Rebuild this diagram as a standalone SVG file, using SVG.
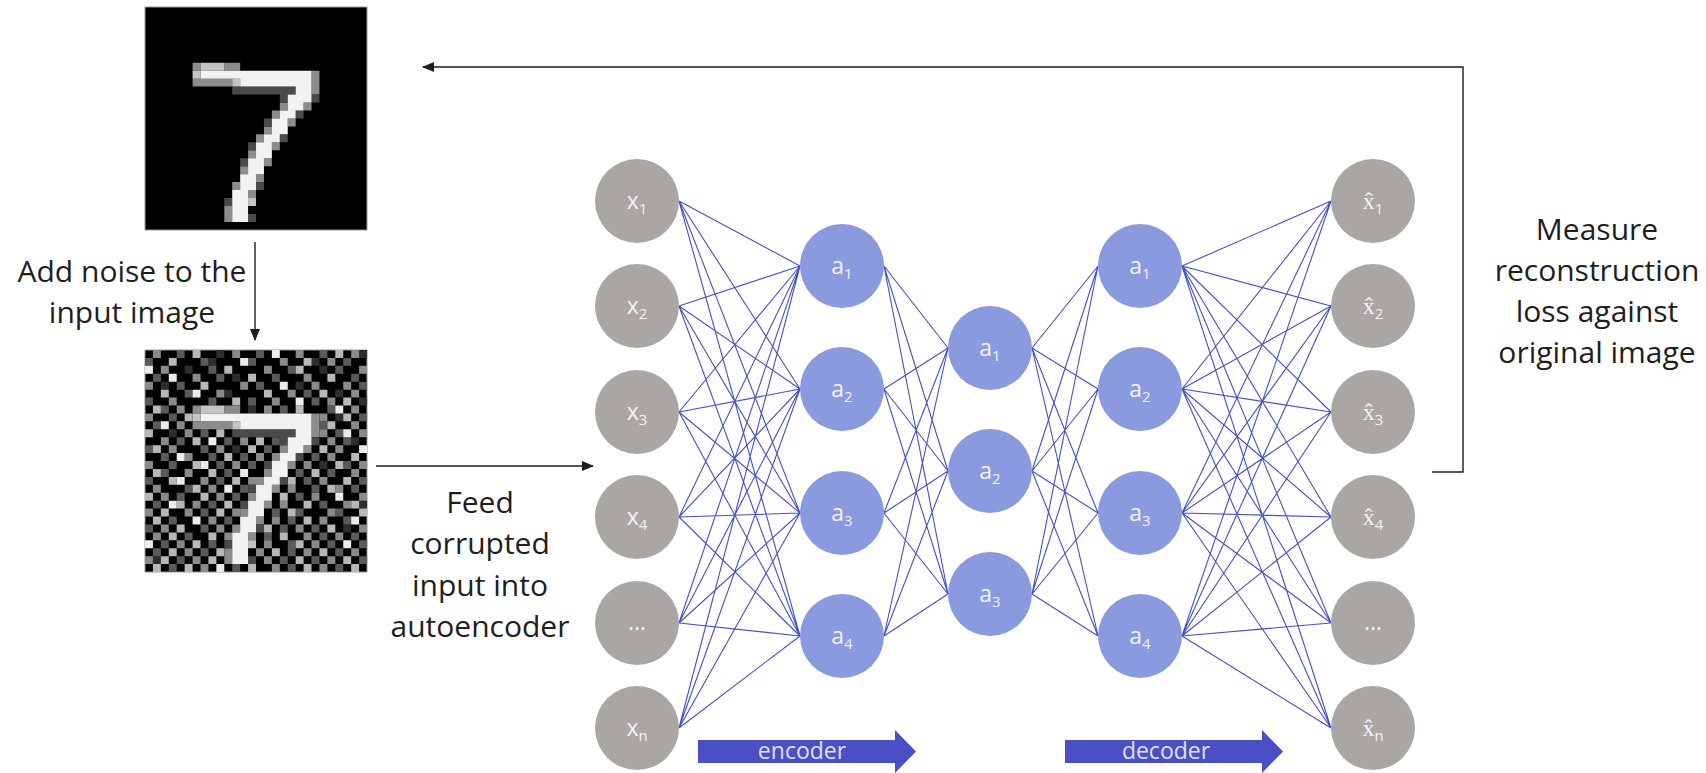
<svg xmlns="http://www.w3.org/2000/svg" xmlns:xlink="http://www.w3.org/1999/xlink" width="1706" height="773" viewBox="0 0 1706 773">
<style>
.txt{font-family:"Open Sans","Noto Sans",sans-serif;font-size:30px;fill:#1e1e1e;text-anchor:middle}
.gn{fill:#aaa6a4}
.bn{fill:#8a9ade}
.lbl{font-family:"Open Sans","Noto Sans",sans-serif;font-size:23px;fill:#f2f2f4;text-anchor:middle}
.hat{font-family:"Liberation Serif","DejaVu Serif",serif;font-size:24px}
.sub{font-size:15px}
.edge{fill:none;stroke:#4450c4;stroke-width:1.1}
.arr{fill:none;stroke:#1e1e1e;stroke-width:1.4}
.band{fill:#4a4fc6}
.bandtxt{font-family:"Open Sans","Noto Sans",sans-serif;font-size:23px;fill:#dfe2f6;text-anchor:middle}
.px{fill:none;stroke-width:1}
</style>
<defs>
<marker id="ah" markerUnits="userSpaceOnUse" markerWidth="12" markerHeight="10" refX="11" refY="5" orient="auto">
<path d="M0 0L12 5L0 10z" fill="#1e1e1e"/>
</marker>
<g id="digit7">
<path fill="#8c8c8c" d="M6 7h1v1h-1zM10 7h2v1h-2zM21 8h1v1h-1zM6 9h5v1h-5zM21 9h1v1h-1zM21 10h1v1h-1zM17 12h1v1h-1zM20 12h1v1h-1zM16 13h1v1h-1zM18 14h1v1h-1zM15 15h1v1h-1zM14 16h1v1h-1zM16 17h1v1h-1zM13 18h1v1h-1zM15 19h1v1h-1zM12 20h1v1h-1zM14 21h1v1h-1zM11 22h1v1h-1zM13 23h1v1h-1zM10 25h1v1h-1zM10 26h1v1h-1z"/>
<path fill="#4a4a4a" d="M11 10h8v1h-8zM17 11h1v1h-1zM21 11h1v1h-1zM19 13h1v1h-1zM15 14h1v1h-1zM17 16h1v1h-1zM13 17h1v1h-1zM12 19h1v1h-1zM14 22h1v1h-1zM10 24h1v1h-1zM13 26h1v1h-1z"/>
<path fill="#c4c4c4" d="M7 7h3v1h-3zM6 8h1v1h-1zM11 9h1v1h-1zM13 24h1v1h-1z"/>
<path fill="#f2f2f2" d="M7 8h14v1h-14zM12 9h9v1h-9zM19 10h2v1h-2zM18 11h3v1h-3zM18 12h2v1h-2zM17 13h2v1h-2zM16 14h2v1h-2zM16 15h2v1h-2zM15 16h2v1h-2zM14 17h2v1h-2zM14 18h2v1h-2zM13 19h2v1h-2zM13 20h2v1h-2zM12 21h2v1h-2zM12 22h2v1h-2zM11 23h2v1h-2zM11 24h2v1h-2zM11 25h2v1h-2zM11 26h2v1h-2z"/>
</g>
</defs>
<rect width="1706" height="773" fill="#ffffff"/>

<g id="input-image">
<rect x="145" y="7" width="222" height="223" fill="#000000" stroke="#9a9a9a" stroke-width="1"/>
<use xlink:href="#digit7" href="#digit7" transform="translate(145,7) scale(7.93,7.96)"/>
</g>

<g id="noisy-image">
<rect x="145" y="350" width="222" height="222" fill="#000000" stroke="#9a9a9a" stroke-width="1"/>
<g transform="translate(145,350) scale(7.93,7.93)">
<path class="px" stroke="#2e2e2e" d="M9 .5h1M27 .5h1M8 1.5h1M21 1.5h1M5 2.5h1M22 2.5h1M11 3.5h1M2 4.5h1M19 4.5h1M10 5.5h1M24 5.5h1M27 6.5h1M13 7.5h1M24 8.5h1M3 10.5h1M26 11.5h1M11 12.5h1M22 14.5h1M15 16.5h1M27 19.5h1M25 22.5h1M1 26.5h1"/>
<path class="px" stroke="#5a5a5a" d="M4 .5h1M14 .5h1M22 .5h1M0 1.5h1M7 1.5h1M13 1.5h1M25 1.5h1M8 2.5h1M18 2.5h1M24 2.5h1M1 3.5h1M9 3.5h1M16 3.5h1M26 3.5h1M4 4.5h1M14 4.5h1M27 4.5h1M5 5.5h1M20 5.5h1M0 6.5h1M8 6.5h1M13 6.5h1M21 6.5h1M2 7.5h1M17 7.5h1M23 7.5h1M3 8.5h1M27 8.5h1M1 9.5h1M22 9.5h1M7 10.5h1M24 10.5h1M4 11.5h1M10 11.5h1M16 11.5h1M25 11.5h1M0 12.5h1M7 12.5h1M15 12.5h1M2 13.5h1M8 13.5h1M12 13.5h1M21 13.5h1M3 14.5h1M9 14.5h1M13 14.5h1M25 14.5h1M2 15.5h1M10 15.5h1M19 15.5h1M23 15.5h1M0 16.5h1M9 16.5h1M20 16.5h1M27 16.5h1M5 17.5h1M12 17.5h1M21 17.5h1M26 17.5h1M4 18.5h1M11 18.5h1M19 18.5h1M1 19.5h1M8 19.5h1M22 19.5h1M7 20.5h1M16 20.5h1M19 20.5h1M24 20.5h1M3 21.5h1M10 21.5h1M18 21.5h1M25 21.5h1M0 22.5h1M7 22.5h1M17 22.5h1M21 22.5h1M5 23.5h1M15 23.5h1M22 23.5h1M26 23.5h1M2 24.5h1M8 24.5h1M18 24.5h1M23 24.5h1M27 24.5h1M1 25.5h1M7 25.5h1M18 25.5h1M24 25.5h1M4 26.5h1M17 26.5h1M21 26.5h1M27 26.5h1M3 27.5h1M11 27.5h1M18 27.5h1M24 27.5h1"/>
<path class="px" stroke="#8a8a8a" d="M1 .5h1M11 .5h1M19 .5h1M26 .5h1M17 1.5h1M23 1.5h1M2 2.5h1M15 2.5h1M27 2.5h1M6 3.5h1M20 3.5h1M0 4.5h1M12 4.5h1M21 4.5h1M25 4.5h1M9 5.5h1M18 5.5h1M26 5.5h1M3 6.5h1M16 6.5h1M23 6.5h1M4 7.5h1M15 7.5h1M26 7.5h1M0 8.5h1M22 8.5h1M4 9.5h1M26 9.5h1M5 10.5h1M22 10.5h1M27 10.5h1M2 11.5h1M12 11.5h1M23 11.5h1M3 12.5h1M9 12.5h1M24 12.5h1M5 13.5h1M14 13.5h1M23 13.5h1M0 14.5h1M11 14.5h1M20 14.5h1M27 14.5h1M5 15.5h1M26 15.5h1M7 16.5h1M13 16.5h1M22 16.5h1M1 17.5h1M8 17.5h1M18 17.5h1M24 17.5h1M2 18.5h1M9 18.5h1M21 18.5h1M27 18.5h1M6 19.5h1M17 19.5h1M25 19.5h1M0 20.5h1M5 20.5h1M11 20.5h1M23 20.5h1M8 21.5h1M16 21.5h1M22 21.5h1M2 22.5h1M9 22.5h1M19 22.5h1M27 22.5h1M1 23.5h1M10 23.5h1M20 23.5h1M24 23.5h1M4 24.5h1M15 24.5h1M21 24.5h1M5 25.5h1M14 25.5h1M20 25.5h1M26 25.5h1M0 26.5h1M6 26.5h1M15 26.5h1M23 26.5h1M7 27.5h1M16 27.5h1M22 27.5h1"/>
<path class="px" stroke="#b8b8b8" d="M6 .5h1M24 .5h1M3 1.5h1M20 1.5h1M10 2.5h1M19 2.5h1M13 3.5h1M23 3.5h1M7 4.5h1M2 5.5h1M15 5.5h1M22 5.5h1M11 6.5h1M25 6.5h1M1 7.5h1M19 7.5h1M5 8.5h1M25 8.5h1M23 9.5h1M0 10.5h1M9 10.5h1M6 11.5h1M14 11.5h1M1 12.5h1M13 12.5h1M22 12.5h1M10 13.5h1M26 13.5h1M6 14.5h1M24 14.5h1M1 15.5h1M8 15.5h1M21 15.5h1M3 16.5h1M11 16.5h1M18 16.5h1M25 16.5h1M6 17.5h1M23 17.5h1M0 18.5h1M7 18.5h1M17 18.5h1M4 19.5h1M10 19.5h1M20 19.5h1M26 19.5h1M2 20.5h1M9 20.5h1M18 20.5h1M27 20.5h1M1 21.5h1M20 21.5h1M4 22.5h1M15 22.5h1M23 22.5h1M3 23.5h1M8 23.5h1M17 23.5h1M6 24.5h1M19 24.5h1M3 25.5h1M9 25.5h1M16 25.5h1M22 25.5h1M2 26.5h1M8 26.5h1M19 26.5h1M25 26.5h1M1 27.5h1M5 27.5h1M13 27.5h1M20 27.5h1M26 27.5h1"/>
<path class="px" stroke="#ececec" d="M16 .5h1M12 1.5h1M0 2.5h1M3 3.5h1M17 4.5h1M6 5.5h1M19 6.5h1M24 7.5h1M2 9.5h1M25 10.5h1M8 11.5h1M27 12.5h1M4 13.5h1M7 14.5h1M12 15.5h1M4 16.5h1M10 17.5h1M24 18.5h1M3 19.5h1M6 21.5h1M26 21.5h1M0 24.5h1M25 24.5h1M9 27.5h1"/>
<use xlink:href="#digit7" href="#digit7"/>
</g>
</g>

<g id="connectors">
<path class="arr" d="M255 242V340" marker-end="url(#ah)"/>
<path class="arr" d="M376 466H593" marker-end="url(#ah)"/>
<path class="arr" d="M1432 472H1463V67H423" marker-end="url(#ah)"/>
<path class="edge" d="M679 201L800 266M679 201L800 389M679 201L800 513M679 201L800 636M679 306L800 266M679 306L800 389M679 306L800 513M679 306L800 636M679 412L800 266M679 412L800 389M679 412L800 513M679 412L800 636M679 517L800 266M679 517L800 389M679 517L800 513M679 517L800 636M679 623L800 266M679 623L800 389M679 623L800 513M679 623L800 636M679 728L800 266M679 728L800 389M679 728L800 513M679 728L800 636"/>
<path class="edge" d="M884 266L948 348M884 266L948 471M884 266L948 594M884 389L948 348M884 389L948 471M884 389L948 594M884 513L948 348M884 513L948 471M884 513L948 594M884 636L948 348M884 636L948 471M884 636L948 594"/>
<path class="edge" d="M1032 348L1098 266M1032 348L1098 389M1032 348L1098 513M1032 348L1098 636M1032 471L1098 266M1032 471L1098 389M1032 471L1098 513M1032 471L1098 636M1032 594L1098 266M1032 594L1098 389M1032 594L1098 513M1032 594L1098 636"/>
<path class="edge" d="M1182 266L1331 201M1182 266L1331 306M1182 266L1331 412M1182 266L1331 517M1182 266L1331 623M1182 266L1331 728M1182 389L1331 201M1182 389L1331 306M1182 389L1331 412M1182 389L1331 517M1182 389L1331 623M1182 389L1331 728M1182 513L1331 201M1182 513L1331 306M1182 513L1331 412M1182 513L1331 517M1182 513L1331 623M1182 513L1331 728M1182 636L1331 201M1182 636L1331 306M1182 636L1331 412M1182 636L1331 517M1182 636L1331 623M1182 636L1331 728"/>
</g>

<g id="in-x1"><circle class="gn" cx="637" cy="201" r="42"/><text class="lbl" x="637" y="209">x<tspan class="sub" dy="5">1</tspan></text></g>
<g id="in-x2"><circle class="gn" cx="637" cy="306" r="42"/><text class="lbl" x="637" y="314">x<tspan class="sub" dy="5">2</tspan></text></g>
<g id="in-x3"><circle class="gn" cx="637" cy="412" r="42"/><text class="lbl" x="637" y="420">x<tspan class="sub" dy="5">3</tspan></text></g>
<g id="in-x4"><circle class="gn" cx="637" cy="517" r="42"/><text class="lbl" x="637" y="525">x<tspan class="sub" dy="5">4</tspan></text></g>
<g id="in-dots"><circle class="gn" cx="637" cy="623" r="42"/><text class="lbl" x="637" y="630" font-size="17">...</text></g>
<g id="in-xn"><circle class="gn" cx="637" cy="728" r="42"/><text class="lbl" x="637" y="736">x<tspan class="sub" dy="5">n</tspan></text></g>

<g id="enc-a1"><circle class="bn" cx="842" cy="266" r="42"/><text class="lbl" x="842" y="274">a<tspan class="sub" dy="5">1</tspan></text></g>
<g id="enc-a2"><circle class="bn" cx="842" cy="389" r="42"/><text class="lbl" x="842" y="397">a<tspan class="sub" dy="5">2</tspan></text></g>
<g id="enc-a3"><circle class="bn" cx="842" cy="513" r="42"/><text class="lbl" x="842" y="521">a<tspan class="sub" dy="5">3</tspan></text></g>
<g id="enc-a4"><circle class="bn" cx="842" cy="636" r="42"/><text class="lbl" x="842" y="644">a<tspan class="sub" dy="5">4</tspan></text></g>

<g id="code-a1"><circle class="bn" cx="990" cy="348" r="42"/><text class="lbl" x="990" y="356">a<tspan class="sub" dy="5">1</tspan></text></g>
<g id="code-a2"><circle class="bn" cx="990" cy="471" r="42"/><text class="lbl" x="990" y="479">a<tspan class="sub" dy="5">2</tspan></text></g>
<g id="code-a3"><circle class="bn" cx="990" cy="594" r="42"/><text class="lbl" x="990" y="602">a<tspan class="sub" dy="5">3</tspan></text></g>

<g id="dec-a1"><circle class="bn" cx="1140" cy="266" r="42"/><text class="lbl" x="1140" y="274">a<tspan class="sub" dy="5">1</tspan></text></g>
<g id="dec-a2"><circle class="bn" cx="1140" cy="389" r="42"/><text class="lbl" x="1140" y="397">a<tspan class="sub" dy="5">2</tspan></text></g>
<g id="dec-a3"><circle class="bn" cx="1140" cy="513" r="42"/><text class="lbl" x="1140" y="521">a<tspan class="sub" dy="5">3</tspan></text></g>
<g id="dec-a4"><circle class="bn" cx="1140" cy="636" r="42"/><text class="lbl" x="1140" y="644">a<tspan class="sub" dy="5">4</tspan></text></g>

<g id="out-x1"><circle class="gn" cx="1373" cy="201" r="42"/><text class="lbl" x="1373" y="209"><tspan class="hat">x&#x302;</tspan><tspan class="sub" dy="5">1</tspan></text></g>
<g id="out-x2"><circle class="gn" cx="1373" cy="306" r="42"/><text class="lbl" x="1373" y="314"><tspan class="hat">x&#x302;</tspan><tspan class="sub" dy="5">2</tspan></text></g>
<g id="out-x3"><circle class="gn" cx="1373" cy="412" r="42"/><text class="lbl" x="1373" y="420"><tspan class="hat">x&#x302;</tspan><tspan class="sub" dy="5">3</tspan></text></g>
<g id="out-x4"><circle class="gn" cx="1373" cy="517" r="42"/><text class="lbl" x="1373" y="525"><tspan class="hat">x&#x302;</tspan><tspan class="sub" dy="5">4</tspan></text></g>
<g id="out-dots"><circle class="gn" cx="1373" cy="623" r="42"/><text class="lbl" x="1373" y="630" font-size="17">...</text></g>
<g id="out-xn"><circle class="gn" cx="1373" cy="728" r="42"/><text class="lbl" x="1373" y="736"><tspan class="hat">x&#x302;</tspan><tspan class="sub" dy="5">n</tspan></text></g>

<g id="encoder-band">
<path class="band" d="M698 740H895V730L916 751.5L895 773V763H698z"/>
<text class="bandtxt" x="802" y="759">encoder</text>
</g>
<g id="decoder-band">
<path class="band" d="M1065 740H1262V730L1283 751.5L1262 773V763H1065z"/>
<text class="bandtxt" x="1166" y="759">decoder</text>
</g>

<g id="label-noise">
<text class="txt" x="132" y="282">Add noise to the</text>
<text class="txt" x="132" y="323">input image</text>
</g>
<g id="label-feed">
<text class="txt" x="480" y="513">Feed</text>
<text class="txt" x="480" y="554">corrupted</text>
<text class="txt" x="480" y="596">input into</text>
<text class="txt" x="480" y="637">autoencoder</text>
</g>
<g id="label-loss">
<text class="txt" x="1597" y="240">Measure</text>
<text class="txt" x="1597" y="281">reconstruction</text>
<text class="txt" x="1597" y="322">loss against</text>
<text class="txt" x="1597" y="363">original image</text>
</g>
</svg>
